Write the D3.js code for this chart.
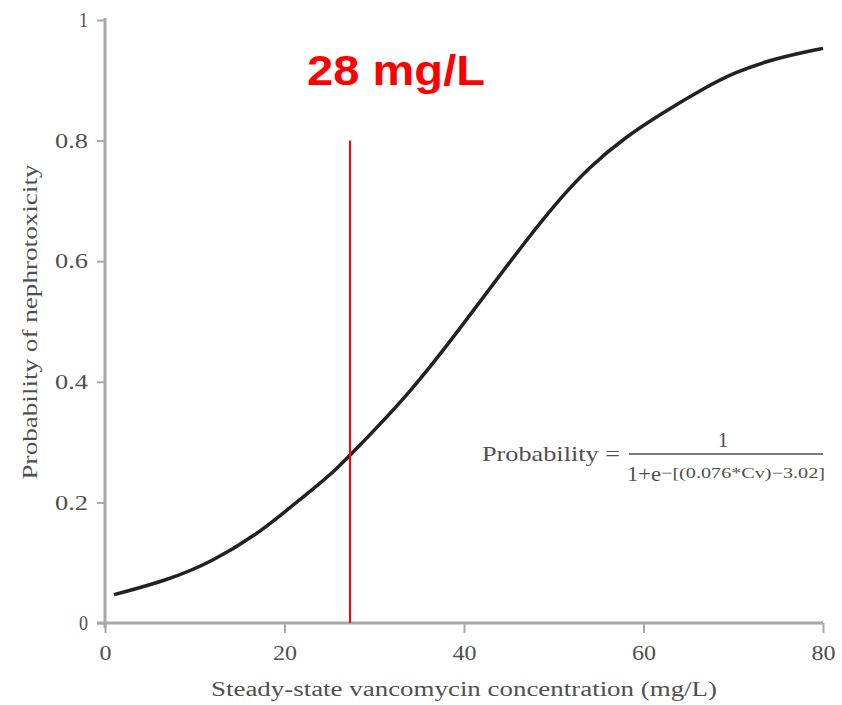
<html>
<head>
<meta charset="utf-8">
<script src="https://d3js.org/d3.v7.min.js"></script>
<style>
  body { margin: 0; background: #fff; }
</style>
</head>
<body>
<svg id="viz" width="842" height="705"></svg>
<script>
// values
var concentration = [1, 7, 12, 17, 20, 23, 25.5, 27.5, 34, 40, 45, 50, 54, 58, 62, 67, 70, 74.5, 80];
var probability   = [0.047, 0.071, 0.102, 0.148, 0.184, 0.22, 0.251, 0.281, 0.381, 0.497, 0.597, 0.693, 0.757, 0.806, 0.845, 0.889, 0.912, 0.936, 0.953];
var xTicks = [0, 20, 40, 60, 80];
var yTicks = [0, 0.2, 0.4, 0.6, 0.8, 1];
var yTickLabels = ["0", "0.2", "0.4", "0.6", "0.8", "1"];
var cutoff = 27.3;        // red marker line
var cutoffTop = 0.8;
var cutoffLabel = "28 mg/L";

var svg = d3.select("#viz");
var serif = "'Liberation Serif', 'Times New Roman', serif";
var axisGray = "#a8a8a8";
var textGray = "#4f4f4f";

var x = d3.scaleLinear().domain([0, 80]).range([105, 823]);
var y = d3.scaleLinear().domain([0, 1]).range([623, 20]);

var data = concentration.map(function(c, i) { return { c: c, p: probability[i] }; });

// y axis
var yAxis = svg.append("g")
  .attr("transform", "translate(" + x(0) + ",0)")
  .call(d3.axisLeft(y).tickValues(yTicks).tickSize(8).tickSizeOuter(0)
    .tickFormat(function(d, i) { return yTickLabels[i]; }));
yAxis.select(".domain").attr("stroke", axisGray).attr("stroke-width", 3)
  .attr("d", "M0," + (y(1) - 2) + "V" + (y(0) + 5));
yAxis.selectAll(".tick line").attr("stroke", axisGray).attr("stroke-width", 2);
yAxis.selectAll(".tick text")
  .attr("x", -17)
  .attr("fill", textGray)
  .style("font-family", serif)
  .style("font-size", "21px")
  .attr("textLength", function(d, i) { return yTickLabels[i].length > 1 ? 33 : 9; })
  .attr("lengthAdjust", "spacingAndGlyphs");

// x axis
var xAxis = svg.append("g")
  .attr("transform", "translate(0," + y(0) + ")")
  .call(d3.axisBottom(x).tickValues(xTicks).tickSize(10).tickSizeOuter(0));
xAxis.select(".domain").attr("stroke", axisGray).attr("stroke-width", 3)
  .attr("d", "M" + (x(0) - 8) + ",0H" + x(80));
xAxis.selectAll(".tick line").attr("stroke", axisGray).attr("stroke-width", 2);
xAxis.selectAll(".tick text")
  .attr("y", 22)
  .attr("fill", textGray)
  .style("font-family", serif)
  .style("font-size", "21px")
  .attr("textLength", function(d) { return d === 0 ? 12 : 24; })
  .attr("lengthAdjust", "spacingAndGlyphs");

// axis titles
svg.append("text")
  .attr("x", 464).attr("y", 696)
  .attr("text-anchor", "middle")
  .attr("fill", textGray)
  .style("font-family", serif)
  .style("font-size", "20px")
  .attr("textLength", 506)
  .attr("lengthAdjust", "spacingAndGlyphs")
  .text("Steady-state vancomycin concentration (mg/L)");

svg.append("text")
  .attr("transform", "translate(37,322) rotate(-90)")
  .attr("text-anchor", "middle")
  .attr("fill", textGray)
  .style("font-family", serif)
  .style("font-size", "22px")
  .attr("textLength", 315)
  .attr("lengthAdjust", "spacingAndGlyphs")
  .text("Probability of nephrotoxicity");

// curve
svg.append("path")
  .datum(data)
  .attr("fill", "none")
  .attr("stroke", "#222")
  .attr("stroke-width", 3.5)
  .attr("d", d3.line()
    .curve(d3.curveBasis)
    .x(function(d) { return x(d.c); })
    .y(function(d) { return y(d.p); }));

// red cutoff
svg.append("line")
  .attr("x1", x(cutoff)).attr("x2", x(cutoff))
  .attr("y1", y(cutoffTop)).attr("y2", y(0))
  .attr("stroke", "#ff0000")
  .attr("stroke-width", 2);

svg.append("text")
  .attr("x", 307).attr("y", 85)
  .attr("fill", "#ff0000")
  .style("font-family", "'Liberation Sans', Arial, sans-serif")
  .style("font-weight", "bold")
  .style("font-size", "42px")
  .attr("textLength", 178)
  .attr("lengthAdjust", "spacingAndGlyphs")
  .text(cutoffLabel);

// formula
var f = svg.append("g")
  .attr("fill", textGray)
  .style("font-family", serif);
f.append("text")
  .attr("x", 482).attr("y", 461)
  .style("font-size", "22px")
  .attr("textLength", 138)
  .attr("lengthAdjust", "spacingAndGlyphs")
  .text("Probability =");
f.append("line")
  .attr("x1", 629).attr("x2", 823)
  .attr("y1", 454).attr("y2", 454)
  .attr("stroke", textGray)
  .attr("stroke-width", 1.5);
f.append("text")
  .attr("x", 723).attr("y", 447)
  .attr("text-anchor", "middle")
  .style("font-size", "21px")
  .text("1");
f.append("text")
  .attr("x", 627).attr("y", 481)
  .style("font-size", "21px")
  .attr("textLength", 34)
  .attr("lengthAdjust", "spacingAndGlyphs")
  .text("1+e");
f.append("text")
  .attr("x", 661).attr("y", 478)
  .style("font-size", "15px")
  .attr("textLength", 164)
  .attr("lengthAdjust", "spacingAndGlyphs")
  .text("\u2212[(0.076*Cv)\u22123.02]");
</script>
</body>
</html>
